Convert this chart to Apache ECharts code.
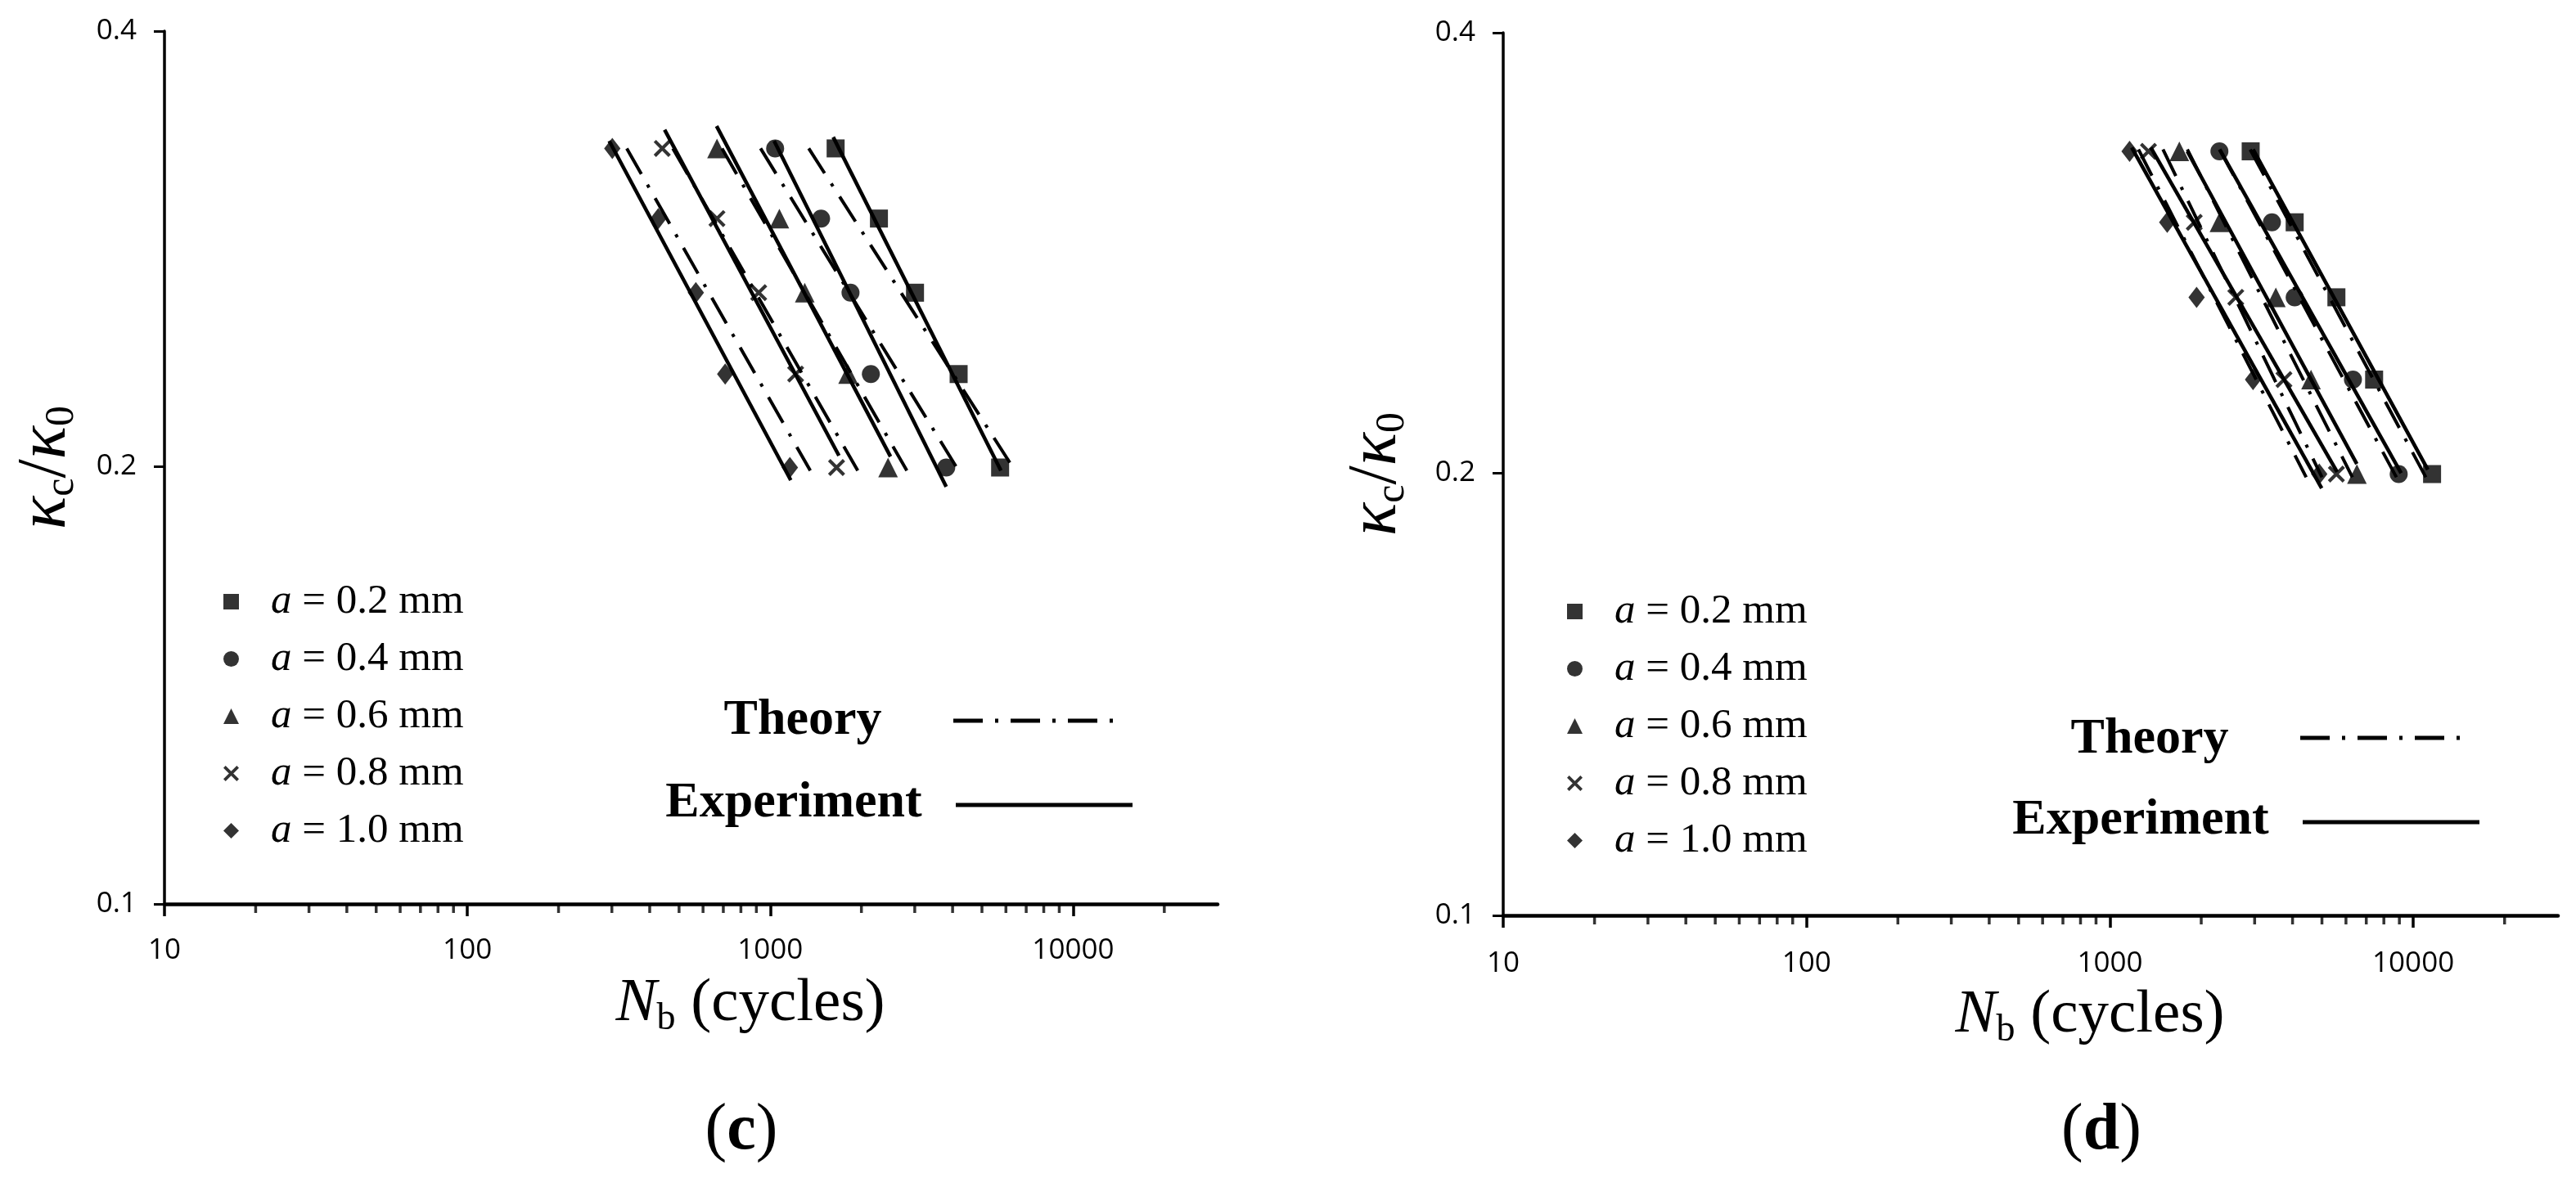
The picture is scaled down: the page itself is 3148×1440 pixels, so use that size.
<!DOCTYPE html>
<html>
<head>
<meta charset="utf-8">
<title>kc/k0 vs Nb</title>
<script src="https://cdn.jsdelivr.net/npm/echarts@6/dist/echarts.min.js"></script>
<style>
    html, body { margin: 0; padding: 0; background: #fff; }
    #chart { width: 3148px; height: 1440px; }
</style>
</head>
<body>
<div id="chart"></div>
<script>
// kappa_c / kappa_0 level of every marker row (same in both panels)
var kLevels = [0.332, 0.297, 0.264, 0.232, 0.2];
var seriesNames = ['a = 0.2 mm', 'a = 0.4 mm', 'a = 0.6 mm', 'a = 0.8 mm', 'a = 1.0 mm'];

// panel (c): Nb of the markers, one list per crack depth
var cN02 = [1644, 2285, 3006, 4188, 5741];
var cN04 = [1038, 1472, 1841, 2149, 3811];
var cN06 = [667, 1072, 1300, 1807, 2449];
var cN08 = [440, 667, 916, 1213, 1656];
var cN10 = [301, 427, 568, 710, 1161];

// panel (c): experiment fit lines (start / end)
var cExpStartN = [1614, 1030, 665, 448, 294];
var cExpStartK = [0.338, 0.336, 0.344, 0.342, 0.336];
var cExpEndN = [5776, 3811, 2495, 1686, 1169];
var cExpEndK = [0.199, 0.194, 0.2035, 0.2038, 0.196];

// panel (c): theory lines (start / end)
var cThStartN = [1340, 929, 693, 477, 336];
var cThStartK = [0.332, 0.332, 0.332, 0.332, 0.332];
var cThEndN = [6427, 4188, 2825, 1945, 1356];
var cThEndK = [0.199, 0.199, 0.199, 0.199, 0.199];

// panel (d): Nb of the markers
var dN02 = [2911, 4065, 5580, 7430, 11535];
var dN04 = [2296, 3420, 4065, 6326, 8954];
var dN06 = [1694, 2296, 3524, 4603, 6520];
var dN08 = [1340, 1897, 2600, 3747, 5580];
var dN10 = [1161, 1545, 1931, 2964, 4898];

// panel (d): experiment fit lines
var dExpStartN = [2965, 2300, 1800, 1364, 1180];
var dExpStartK = [0.333, 0.333, 0.332, 0.334, 0.334];
var dExpEndN = [11170, 9120, 6516, 5610, 4990];
var dExpEndK = [0.2014, 0.2003, 0.2032, 0.2007, 0.1956];

// panel (d): theory lines
var dThStartN = [2900, 2300, 1800, 1496, 1242];
var dThStartK = [0.333, 0.333, 0.333, 0.333, 0.333];
var dThEndN = [11000, 8800, 6300, 5000, 4436];
var dThEndK = [0.199, 0.199, 0.199, 0.199, 0.199];

// minor ticks of the log x axis
var xMinorTicks = [20, 30, 40, 50, 60, 70, 80, 90, 200, 300, 400, 500, 600, 700, 800, 900,
    2000, 3000, 4000, 5000, 6000, 7000, 8000, 9000, 20000];

var crossPath = 'path://M0,1.4L1.4,0L10,8.6L8.6,10Z M8.6,0L10,1.4L1.4,10L0,8.6Z';
var symbols = ['rect', 'circle', 'triangle', crossPath, 'diamond'];
var symbolSizes = [22, 22, 24, 21, [20, 26]];

var serif = '"Liberation Serif", "DejaVu Serif", serif';
var sans = '"Open Sans", "Liberation Sans", sans-serif';
var dashDot = [36, 15, 4, 15];

var myChart = echarts.init(document.getElementById('chart'), null, { renderer: 'canvas' });

var toPoints = function (nList) {
    return nList.map(function (n, i) { return [n, kLevels[i]]; });
};

var buildPanel = function (idx, markers, eSN, eSK, eEN, eEK, tSN, tSK, tEN, tEK) {
    var list = [];
    for (var i = 0; i < 5; i++) {
        list.push({
            type: 'line', name: 'Experiment', xAxisIndex: idx, yAxisIndex: idx,
            data: [[eSN[i], eSK[i]], [eEN[i], eEK[i]]],
            symbol: 'none', silent: true, z: 2,
            lineStyle: { color: '#000', width: 4.5 }
        });
        list.push({
            type: 'line', name: 'Theory', xAxisIndex: idx, yAxisIndex: idx,
            data: [[tSN[i], tSK[i]], [tEN[i], tEK[i]]],
            symbol: 'none', silent: true, z: 2,
            lineStyle: { color: '#000', width: 4, type: dashDot }
        });
        list.push({
            type: 'scatter', name: seriesNames[i], xAxisIndex: idx, yAxisIndex: idx,
            data: toPoints(markers[i]),
            symbol: symbols[i], symbolSize: symbolSizes[i], z: 3,
            itemStyle: { color: '#000' }
        });
    }
    list.push({
        type: 'scatter', xAxisIndex: idx, yAxisIndex: idx, silent: true, clip: false, z: 4,
        data: xMinorTicks.map(function (v) { return [v, 0.1]; }),
        symbol: 'rect', symbolSize: [3.5, 11], symbolOffset: [0, 5.5],
        itemStyle: { color: '#000' }
    });
    return list;
};

var xAxisCfg = function (idx, labelMargin) {
    return {
        type: 'log', logBase: 10, gridIndex: idx, min: 10, max: 30000,
        axisLine: { lineStyle: { color: '#000', width: 4.5 } },
        axisTick: { length: 15, lineStyle: { color: '#000', width: 3.5 } },
        axisLabel: {
            margin: labelMargin, fontSize: 35, fontFamily: sans, color: '#000', showMaxLabel: false,
            formatter: function (v) { return String(Math.round(v)); }
        },
        splitLine: { show: false },
        name: '{i|N}{s|b}{n| (cycles)}',
        nameLocation: 'middle', nameGap: 80, nameMoveOverlap: false,
        nameTextStyle: {
            padding: [0, 0, 0, 145],
            rich: {
                i: { fontFamily: serif, fontStyle: 'italic', fontSize: 75, lineHeight: 84, color: '#000' },
                s: { fontFamily: serif, fontSize: 46, lineHeight: 46, verticalAlign: 'bottom', color: '#000' },
                n: { fontFamily: serif, fontSize: 75, lineHeight: 84, color: '#000' }
            }
        }
    };
};

var yAxisCfg = function (idx, nameGap) {
    return {
        type: 'log', logBase: 2, gridIndex: idx, min: 0.1, max: 0.4, interval: 1,
        axisLine: { lineStyle: { color: '#000', width: 3.5 } },
        axisTick: { length: 13, lineStyle: { color: '#000', width: 3 } },
        axisLabel: {
            margin: 34, fontSize: 35, fontFamily: sans, color: '#000',
            formatter: function (v) { return String(Math.round(v * 100) / 100); }
        },
        splitLine: { show: false },
        name: '{k|κ}{s|c}{n|/}{k|κ}{s|0}',
        nameLocation: 'middle', nameRotate: 90, nameGap: nameGap, nameMoveOverlap: false,
        nameTextStyle: {
            rich: {
                k: { fontFamily: serif, fontStyle: 'italic', fontSize: 84, lineHeight: 88, color: '#000' },
                s: { fontFamily: serif, fontSize: 50, lineHeight: 50, verticalAlign: 'bottom', color: '#000' },
                n: { fontFamily: serif, fontSize: 84, lineHeight: 88, color: '#000' }
            }
        }
    };
};

var legendCfg = function (left, top) {
    return {
        data: seriesNames, orient: 'vertical', left: left, top: top, padding: 0,
        itemWidth: 19, itemHeight: 19, itemGap: 19, selectedMode: false,
        formatter: function (name) { return '{i|a}' + name.slice(1); },
        textStyle: {
            fontFamily: serif, fontSize: 51, lineHeight: 51, color: '#000', padding: [0, 0, 0, 34],
            rich: { i: { fontFamily: serif, fontStyle: 'italic', fontSize: 51, color: '#000' } }
        }
    };
};

var keyText = function (txt, x, y) {
    return {
        type: 'text', x: x, y: y,
        style: { text: txt, fill: '#000', font: 'bold 62px ' + serif, align: 'center', verticalAlign: 'middle' }
    };
};
var keyLine = function (x1, x2, y, dashed) {
    return {
        type: 'line', shape: { x1: x1, y1: y, x2: x2, y2: y },
        style: { stroke: '#000', lineWidth: 5, lineDash: dashed ? dashDot : null }
    };
};
var panelTag = function (letter, x, y) {
    return {
        type: 'text', x: x, y: y,
        style: {
            text: '({b|' + letter + '})', fill: '#000', font: '80px ' + serif,
            align: 'center', verticalAlign: 'middle',
            rich: { b: { fontFamily: serif, fontWeight: 'bold', fontSize: 80, fill: '#000' } }
        }
    };
};

var option = {
    backgroundColor: '#fff',
    animation: false,
    grid: [
        { left: 201, top: 38, width: 1287, height: 1067, outerBoundsMode: 'none' },
        { left: 1837, top: 40, width: 1289, height: 1079, outerBoundsMode: 'none' }
    ],
    xAxis: [xAxisCfg(0, 40), xAxisCfg(1, 42)],
    yAxis: [yAxisCfg(0, 100), yAxisCfg(1, 110)],
    legend: [legendCfg(273, 710), legendCfg(1915, 722)],
    graphic: [
        keyText('Theory', 981, 881), keyLine(1165, 1372, 881, true),
        keyText('Experiment', 970, 982), keyLine(1168, 1384, 984, false),
        keyText('Theory', 2627, 904), keyLine(2811, 3019, 902, true),
        keyText('Experiment', 2616, 1003), keyLine(2814, 3030, 1005, false),
        panelTag('c', 906, 1383),
        panelTag('d', 2568, 1383)
    ],
    series: [].concat(
        buildPanel(0, [cN02, cN04, cN06, cN08, cN10], cExpStartN, cExpStartK, cExpEndN, cExpEndK,
            cThStartN, cThStartK, cThEndN, cThEndK),
        buildPanel(1, [dN02, dN04, dN06, dN08, dN10], dExpStartN, dExpStartK, dExpEndN, dExpEndK,
            dThStartN, dThStartK, dThEndN, dThEndK)
    )
};

myChart.setOption(option);
window.onresize = myChart.resize;
</script>
</body>
</html>
